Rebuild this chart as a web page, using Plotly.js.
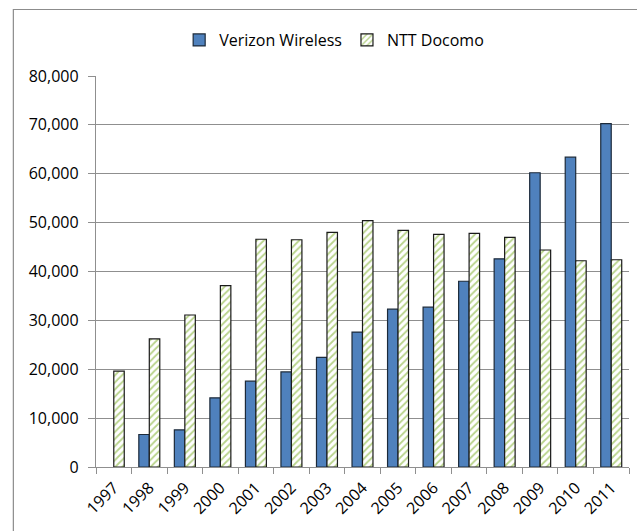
<!DOCTYPE html>
<html>
<head>
<meta charset="utf-8">
<script src="https://cdn.plot.ly/plotly-3.0.1.min.js"></script>
<style>html,body{margin:0;padding:0;background:#fff;}#chart{width:637px;height:531px;}</style>
</head>
<body>
<div id="chart"></div>
<script>
const years = ['1997','1998','1999','2000','2001','2002','2003','2004','2005','2006','2007','2008','2009','2010','2011'];
const verizon = [null, 6650, 7600, 14150, 17550, 19450, 22450, 27600, 32300, 32700, 38000, 42600, 60200, 63400, 70250];
const docomo = [19600, 26200, 31100, 37100, 46600, 46500, 48000, 50400, 48400, 47600, 47800, 47000, 44400, 42200, 42400];
const yTicks = [0, 10000, 20000, 30000, 40000, 50000, 60000, 70000, 80000];
const yTickText = ['0', '10,000', '20,000', '30,000', '40,000', '50,000', '60,000', '70,000', '80,000'];

const FONT = 'Open Sans, Lato, sans-serif';
const L = 95.7, R = 8, T = 76, B = 64, W = 637, H = 531;
const pw = W - L - R, ph = H - T - B;
function px2x(x){ return (x - L) / pw; }
function px2y(y){ return (H - B - y) / ph; }

const traces = [
  {
    type: 'bar', name: 'Verizon Wireless', x: years, y: verizon,
    marker: {color: '#4F81BD', line: {color: '#1c2a3a', width: 1.2}},
    hoverinfo: 'x+y'
  },
  {
    type: 'bar', name: 'NTT Docomo', x: years, y: docomo,
    marker: {
      color: '#ffffff',
      line: {color: '#1a1a1a', width: 1.2},
      pattern: {shape: '/', fgcolor: '#b8d38a', bgcolor: '#ffffff', size: 5, solidity: 0.35}
    },
    hoverinfo: 'x+y'
  }
];

const layout = {
  width: W, height: H,
  margin: {l: L, r: R, t: T, b: B, pad: 0},
  paper_bgcolor: '#ffffff', plot_bgcolor: '#ffffff',
  font: {family: FONT, size: 16, color: '#000000'},
  barmode: 'group', bargap: 0.41, bargroupgap: 0,
  showlegend: true,
  legend: {
    orientation: 'h', x: px2x(334), xanchor: 'center', y: px2y(40), yanchor: 'middle',
    font: {family: FONT, size: 16, color: '#000'}, traceorder: 'normal',
    itemwidth: 30, bgcolor: 'rgba(0,0,0,0)'
  },
  xaxis: {
    type: 'category', tickangle: -45, ticks: 'outside', tickson: 'boundaries',
    ticklen: 6, tickcolor: '#8f8f8f', showline: true, linecolor: '#8f8f8f', linewidth: 1.2,
    showgrid: false, zeroline: false, ticklabelstandoff: 4,
    tickfont: {family: FONT, size: 16, color: '#000'}
  },
  yaxis: {
    range: [0, 80000], tickvals: yTicks, ticktext: yTickText,
    ticks: 'outside', ticklen: 7, tickcolor: '#8f8f8f',
    showline: true, linecolor: '#8f8f8f', linewidth: 1.2,
    showgrid: true, gridcolor: '#8f8f8f', gridwidth: 1.2, zeroline: false,
    ticklabelstandoff: 6,
    tickfont: {family: FONT, size: 16, color: '#000'}
  },
  shapes: [
    {type: 'rect', xref: 'paper', yref: 'paper', x0: px2x(13), x1: px2x(660), y0: px2y(560), y1: px2y(9.5),
     line: {color: '#8c8c8c', width: 1.2}, fillcolor: 'rgba(0,0,0,0)', layer: 'below'}
  ]
};

Plotly.newPlot('chart', traces, layout, {displayModeBar: false, staticPlot: true});
</script>
</body>
</html>
